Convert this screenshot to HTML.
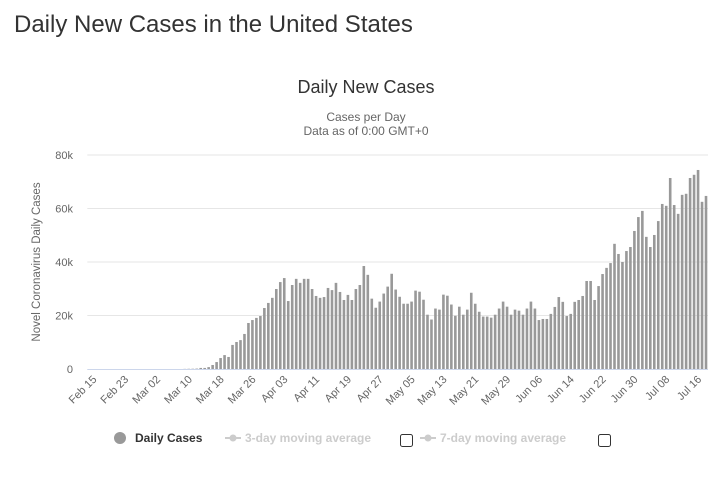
<!DOCTYPE html>
<html><head><meta charset="utf-8"><style>
body{margin:0;background:#fff;width:724px;height:479px;overflow:hidden;font-family:"Liberation Sans",sans-serif}
#t{position:absolute;left:14px;top:11px;font-size:24px;color:#333;margin:0;font-weight:normal}
</style></head><body>
<h1 id="t">Daily New Cases in the United States</h1>
<svg id="c" width="724" height="479" style="position:absolute;left:0;top:0"></svg>
<script>
const categories=["Feb 15","Feb 23","Mar 02","Mar 10","Mar 18","Mar 26","Apr 03","Apr 11","Apr 19","Apr 27","May 05","May 13","May 21","May 29","Jun 06","Jun 14","Jun 22","Jun 30","Jul 08","Jul 16"];
const yTicks=[0,20000,40000,60000,80000];
const yTickLabels=["0","20k","40k","60k","80k"];
const earlyCases=[0,0,0,0,0,0,0,0,0,0,0,0,0,0,0,0,0,0,0,0,0,0,0,0,50,80,100,150];
const dailyCases=[400,400,700,1500,2600,4100,5200,4500,9000,10100,10800,13100,17200,18300,19100,19800,22800,24700,26600,29900,32500,34000,25400,31400,33700,32200,33700,33700,29900,27300,26600,26900,30300,29500,32200,28800,25800,27700,25800,29900,31400,38500,35200,
26300,22900,25200,28200,30800,35600,29700,27000,24400,24400,25200,29300,28900,25900,20300,18500,22600,22200,27800,27400,24100,19900,23300,20300,22200,28500,24400,21400,19600,19600,19200,20300,22600,25200,23300,20300,22200,21800,20300,22600,25200,22600,
18300,18700,18700,20600,23200,26900,25100,19800,20600,25100,25800,27300,32900,32900,25800,31000,35500,37800,39600,46800,43000,40000,44100,45600,51600,56800,59100,49400,45600,50100,55300,61700,61000,71400,61300,58000,65100,65500,71400,72600,74400,62500,64700];
const values=earlyCases.concat(dailyCases);
const NS="http://www.w3.org/2000/svg";
const svg=document.getElementById('c');
const L=87.3,R=708,Y0=369,YT=155;
const n=values.length,bw=(R-L)/n;
const xC=i=>L+bw*(i+0.5);
const yS=v=>Y0-(v/80000)*(Y0-YT);
function mk(tag,attrs,txt){const e=document.createElementNS(NS,tag);for(const k in attrs)e.setAttribute(k,attrs[k]);if(txt!==undefined)e.textContent=txt;svg.appendChild(e);return e;}
let e;
e=mk('text',{x:366,y:93,'text-anchor':'middle','font-size':18,fill:'#333'},'Daily New Cases');


e=mk('text',{x:366,y:121,'text-anchor':'middle','font-size':12,fill:'#666'},'Cases per Day');


e=mk('text',{x:366,y:135,'text-anchor':'middle','font-size':12,fill:'#666'},'Data as of 0:00 GMT+0');


yTicks.forEach((v,i)=>{
  if(i>0){e=mk('line',{x1:L,x2:R,y1:yS(v),y2:yS(v),stroke:'#e6e6e6','stroke-width':1});
  
  }
  e=mk('text',{x:73,y:yS(v)+4,'text-anchor':'end','font-size':11,fill:'#666'},yTickLabels[i]);
  
  
});
e=mk('text',{x:0,y:0,transform:'translate(40,262) rotate(-90)','text-anchor':'middle','font-size':11.5,fill:'#666'},'Novel Coronavirus Daily Cases');


values.forEach((v,i)=>{
  const y=yS(v);
  e=mk('rect',{x:xC(i)-1.3,y:y,width:2.6,height:Y0-y,fill:'#999'});
  
  
});
e=mk('line',{x1:L,x2:R,y1:Y0+0.5,y2:Y0+0.5,stroke:'#ccd6eb','stroke-width':1});


categories.forEach((c,k)=>{
  const x=xC(k*8)+8;
  e=mk('text',{x:0,y:0,transform:`translate(${x},380) rotate(-45)`,'text-anchor':'end','font-size':11,fill:'#666'},c);
  
  
});
e=mk('circle',{cx:120,cy:438,r:6,fill:'#999'});


e=mk('text',{x:135,y:442,'font-size':12,'font-weight':'bold',fill:'#333'},'Daily Cases');


[[225,'3-day moving average',400],[420,'7-day moving average',598]].forEach(([x,t,cb],j)=>{
  e=mk('line',{x1:x,x2:x+16,y1:438,y2:438,stroke:'#ccc','stroke-width':2});
  
  
  e=mk('circle',{cx:x+8,cy:438,r:3.5,fill:'#ccc'});
  
  
  e=mk('text',{x:x+20,y:442,'font-size':12,'font-weight':'bold',fill:'#ccc'},t);
  
  
  e=mk('rect',{x:cb+0.5,y:434.5,width:12,height:12,rx:2,fill:'#fff',stroke:'#333','stroke-width':1});
  
  
});
</script>
</body></html>
